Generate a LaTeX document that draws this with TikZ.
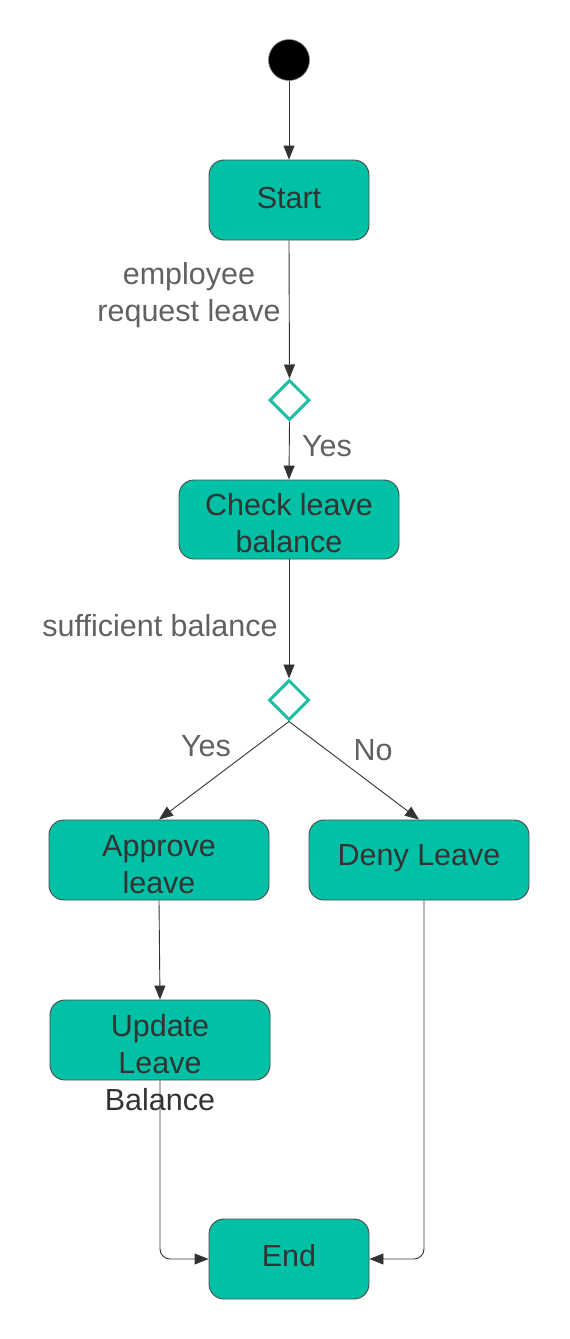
\documentclass[tikz,border=0pt]{standalone}
\usepackage{fontspec}
\setmainfont{Liberation Sans}
\usetikzlibrary{shapes.geometric,arrows.meta}
\definecolor{teal1}{HTML}{00C1A6}
\definecolor{tealline}{HTML}{1DBEA5}
\definecolor{boxline}{HTML}{4A4A4A}
\definecolor{txtc}{HTML}{333333}
\definecolor{lblc}{HTML}{616161}
\definecolor{linec}{HTML}{333333}
\begin{document}
\begin{tikzpicture}[x=1pt,y=-1pt,
  every node/.style={font=\fontsize{30.5}{37}\selectfont},
  box/.style={draw=boxline,line width=0.9pt,fill=teal1,rounded corners=15pt,inner sep=0pt},
  btxt/.style={text=txtc,align=center,inner sep=0pt},
  choice/.style={diamond,draw=tealline,line width=3pt,fill=white,minimum width=40pt,minimum height=40pt,inner sep=0pt,aspect=1},
  lbl/.style={text=lblc,align=center,inner sep=0pt},
  conn/.style={draw=linec,line width=0.9pt,-{Triangle[length=14pt,width=11pt]}}
]
\useasboundingbox (0,0) rectangle (570,1339);
\node[circle,fill=black,draw=gray,line width=0.6pt,minimum size=41pt,inner sep=0pt] (init) at (289,60) {};
\node[box,minimum width=160pt,minimum height=80pt] (start) at (289,200) {};
\node[btxt] (startt) at (289,197.5) {Start};
\node[choice] (d1) at (289.5,400) {};
\node[box,minimum width=220pt,minimum height=79pt] (check) at (289,519.5) {};
\node[btxt] (checkt) at (289,523.5) {Check leave\\balance};
\node[choice] (d2) at (289,700) {};
\node[box,minimum width=220pt,minimum height=80pt] (appr) at (159,860) {};
\node[btxt] (apprt) at (159,864.5) {Approve\\leave};
\node[box,minimum width=220pt,minimum height=80pt] (deny) at (419,860) {};
\node[btxt] (denyt) at (419,858) {Deny Leave};
\node[box,minimum width=220pt,minimum height=80pt] (upd) at (160,1040) {};
\node[btxt] (updt) at (160,1063) {Update\\Leave\\Balance};
\node[box,minimum width=160pt,minimum height=80pt] (end) at (289,1259) {};
\node[btxt] (endt) at (289,1256) {End};

\node[lbl] (l1) at (189,295.5) {employee\\request leave};
\node[lbl] (l2) at (327,446) {Yes};
\node[lbl] (l3) at (160,626) {sufficient balance};
\node[lbl] (l4) at (206,746) {Yes};
\node[lbl] (l5) at (373,750) {No};

\draw[conn] (init) -- (start);
\draw[conn] (start.south) -- (d1.north);
\draw[conn] (d1.south) -- (check.north);
\draw[conn] (check.south) -- (d2.north);
\draw[conn] (d2.south) -- (appr.north);
\draw[conn] (d2.south) -- (deny.north);
\draw[conn] (appr.south) -- (upd.north);
\draw[conn,rounded corners=10pt] (upd.south) |- (end.west);
\draw[conn,rounded corners=10pt] ([xshift=5pt]deny.south) |- (end.east);
\end{tikzpicture}
\end{document}
